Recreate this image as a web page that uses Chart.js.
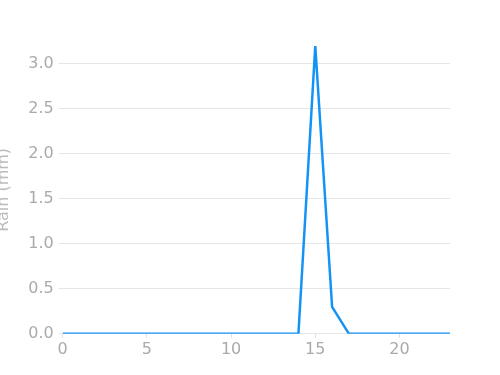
<!DOCTYPE html>
<html><head><meta charset="utf-8">
<script src="https://cdn.jsdelivr.net/npm/chart.js@4"></script>
<style>html,body{margin:0;padding:0;background:#fff;}#wrap{width:500px;height:375px;position:relative;}</style>
</head><body><div id="wrap"><canvas id="c" width="500" height="375"></canvas></div>
<script>
const hours = [0,1,2,3,4,5,6,7,8,9,10,11,12,13,14,15,16,17,18,19,20,21,22,23];
const rain  = [0,0,0,0,0,0,0,0,0,0,0,0,0,0,0,3.2,0.3,0,0,0,0,0,0,0];
const xTicks = [0,5,10,15,20];
const yTicks = [0,0.5,1.0,1.5,2.0,2.5,3.0];
const yTitle = 'Rain (mm)';

const grey = '#aaaaaa';
const font = {family:'DejaVu Sans', size:16};
new Chart(document.getElementById('c'), {
  type:'line',
  data:{ datasets:[{ data: hours.map((h,i)=>({x:h,y:rain[i]})), borderColor:'#1593f5', borderWidth:2.5, pointRadius:0, tension:0, fill:false }]},
  options:{
    responsive:false, animation:false,
    layout:{padding:{left:-10,right:50,top:46,bottom:14}},
    plugins:{legend:{display:false},tooltip:{enabled:false}},
    scales:{
      x:{type:'linear', min:0, max:23,
         afterBuildTicks:s=>{s.ticks=xTicks.map(v=>({value:v}));},
         grid:{display:true, drawOnChartArea:false, tickLength:4, color:'#e0e0e0'},
         border:{display:false},
         ticks:{color:grey, font, padding:2, maxRotation:0}},
      y:{min:0, max:3.2,
         afterBuildTicks:s=>{s.ticks=yTicks.map(v=>({value:v}));},
         grid:{color:'#e6e6e6', tickLength:4},
         border:{display:false},
         title:{display:true, text:yTitle, color:'#bbbbbb', font, padding:{top:4,bottom:10}},
         ticks:{color:grey, font, padding:5, callback:v=>v.toFixed(1)}}
    }
  }
});
</script></body></html>
